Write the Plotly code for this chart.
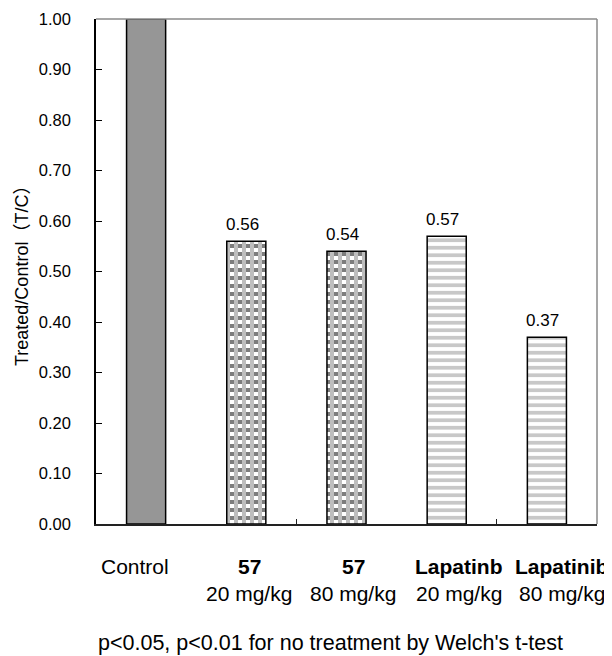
import plotly.graph_objects as go

# ---- data ----
categories = ["Control", "57", "57", "Lapatinb", "Lapatinib"]
doses = ["", "20 mg/kg", "80 mg/kg", "20 mg/kg", "80 mg/kg"]
values = [1.00, 0.56, 0.54, 0.57, 0.37]
value_labels = ["", "0.56", "0.54", "0.57", "0.37"]
fill_kind = ["solid", "checker", "checker", "stripe", "stripe"]
y_ticks = [0.0, 0.1, 0.2, 0.3, 0.4, 0.5, 0.6, 0.7, 0.8, 0.9, 1.0]
footnote = "p<0.05, p<0.01 for no treatment by Welch's t-test"
y_title = "Treated/Control（T/C）"

# ---- layout constants (page body has an 8px margin) ----
OFF = 8
W, H = 612 - OFF, 656 - OFF
ML, MR, MT, MB = 96 - OFF, 15, 19 - OFF, 132
plot_h = H - MT - MB
plot_w = W - ML - MR
BAR_W = 0.39
FONT = "Liberation Sans, Arial, Noto Sans CJK JP, sans-serif"
label_xshift = [-11, 3, 6.5, 12, 15]

xs = list(range(len(categories)))
fig = go.Figure()

# checkerboard bars built from rows of alternating vertical-stripe patterns
row_h = 4.0 / plot_h
rows = {0: ([], [], []), 1: ([], [], [])}
for x, v, kind in zip(xs, values, fill_kind):
    if kind != "checker":
        continue
    k = 0
    while k * row_h < v - 1e-9:
        base = k * row_h
        h = min(row_h, v - base)
        bx, bb, bh = rows[k % 2]
        bx.append(x); bb.append(base); bh.append(h)
        k += 1

for parity, (fg, bg) in {0: ("#7d7d7d", "#ffffff"), 1: ("#ffffff", "#7d7d7d")}.items():
    bx, bb, bh = rows[parity]
    fig.add_trace(go.Bar(
        x=bx, y=bh, base=bb, width=BAR_W,
        marker=dict(color=bg, line=dict(width=0),
                    pattern=dict(shape="|", fgcolor=fg, bgcolor=bg, size=8, solidity=0.5)),
        hoverinfo="skip", showlegend=False))

# horizontal-stripe bars
sx = [x for x, k in zip(xs, fill_kind) if k == "stripe"]
sy = [v for v, k in zip(values, fill_kind) if k == "stripe"]
fig.add_trace(go.Bar(
    x=sx, y=sy, width=BAR_W,
    marker=dict(color="#ffffff", line=dict(width=0),
                pattern=dict(shape="-", fgcolor="#929292", bgcolor="#ffffff", size=7.5, solidity=0.5)),
    hoverinfo="skip", showlegend=False))

# outlines (and solid control fill)
fig.add_trace(go.Bar(
    x=xs, y=values, width=BAR_W,
    marker=dict(color=["#969696" if k == "solid" else "rgba(0,0,0,0)" for k in fill_kind],
                line=dict(color="#000000", width=1.5)),
    hoverinfo="skip", showlegend=False))

annotations = []
for x, v, t in zip(xs, values, value_labels):
    if t:
        annotations.append(dict(x=x, y=v, xref="x", yref="y", text=t, showarrow=False,
                                yanchor="bottom", yshift=5, xshift=-4,
                                font=dict(family=FONT, size=17, color="#000")))
for x, c, d, dx in zip(xs, categories, doses, label_xshift):
    txt = c if c == "Control" else f"<b>{c}</b>"
    annotations.append(dict(x=x, y=0, xref="x", yref="paper", text=txt, showarrow=False,
                            yanchor="middle", yshift=-42.5, xshift=dx,
                            font=dict(family=FONT, size=21, color="#000")))
    if d:
        annotations.append(dict(x=x, y=0, xref="x", yref="paper", text=d, showarrow=False,
                                yanchor="middle", yshift=-69.5, xshift=dx,
                                font=dict(family=FONT, size=21, color="#000")))
annotations.append(dict(x=0, y=0, xref="paper", yref="paper", text=footnote, showarrow=False,
                        xanchor="left", yanchor="middle", yshift=-119, xshift=0,
                        font=dict(family=FONT, size=21.5, color="#000")))
annotations.append(dict(x=(21.5 - 96) / plot_w, y=0.5, xref="paper", yref="paper",
                        text=y_title, textangle=-90, showarrow=False,
                        xanchor="center", yanchor="middle",
                        font=dict(family=FONT, size=18, color="#000")))

fig.update_layout(
    width=W, height=H, margin=dict(l=ML, r=MR, t=MT, b=MB, autoexpand=False),
    paper_bgcolor="white", plot_bgcolor="white",
    barmode="overlay", bargap=0.61,
    annotations=annotations,
    shapes=[
        dict(type="line", xref="paper", yref="paper", x0=0, x1=1, y0=1, y1=1,
             line=dict(color="#8a8a8a", width=1.5)),
        dict(type="line", xref="paper", yref="paper", x0=1, x1=1, y0=0, y1=1,
             line=dict(color="#8a8a8a", width=1.5)),
    ],
    xaxis=dict(range=[-0.5, len(categories) - 0.5], showgrid=False, zeroline=False,
               showline=True, linecolor="#222", linewidth=1.5,
               tickmode="array", tickvals=[1.5, 3.5], ticks="inside", ticklen=5,
               tickcolor="#222", showticklabels=False, fixedrange=True),
    yaxis=dict(range=[0, 1.0], showgrid=False, zeroline=False,
               showline=True, linecolor="#000", linewidth=1.5,
               tickmode="array", tickvals=y_ticks, tickformat=".2f",
               ticks="inside", ticklen=6, tickcolor="#000",
               ticklabelstandoff=20,
               tickfont=dict(family=FONT, size=16.5, color="#000"), fixedrange=True),
)

fig.write_html("out.html")
